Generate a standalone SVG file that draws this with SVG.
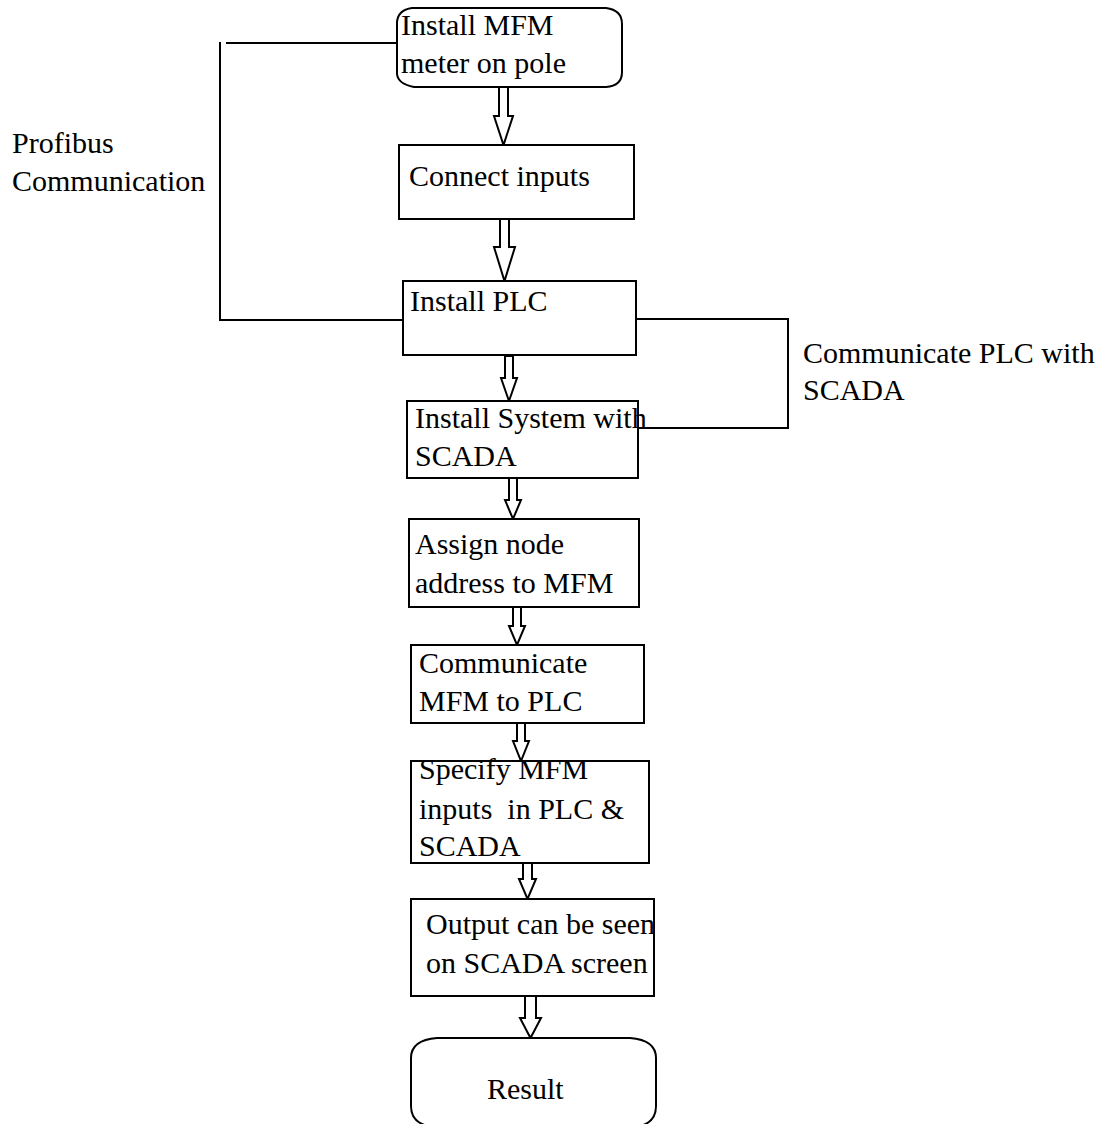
<svg xmlns="http://www.w3.org/2000/svg" width="1099" height="1124" viewBox="0 0 1099 1124">
<style>
.box{fill:#fff;stroke:#000;stroke-width:2}
.ln{fill:none;stroke:#000;stroke-width:2}
.arr{fill:#fff;stroke:#000;stroke-width:2;stroke-linejoin:miter}
text{font-family:"Liberation Serif","Times New Roman","DejaVu Serif",serif;font-size:30px;fill:#000}
</style>
<rect width="1099" height="1124" fill="#fff"/>
<g id="connectors">
<polyline class="ln" points="226,43 397,43"/>
<polyline class="ln" points="220,42 220,320 403,320"/>
<polyline class="ln" points="636,319 788,319 788,428 637,428"/>
<polygon class="arr" points="499,87 508,87 508,116 513,116 503.5,145 494,116 499,116"/>
<polygon class="arr" points="500,219 509,219 509,247 515,247 504.5,281 494,247 500,247"/>
<polygon class="arr" points="505,356 513,356 513,378 517,378 509,401 501,378 505,378"/>
<polygon class="arr" points="509,478 517,478 517,500 521,500 513,519 505,500 509,500"/>
<polygon class="arr" points="513,607 521,607 521,626 525,626 517,645 509,626 513,626"/>
<polygon class="arr" points="517,723 525,723 525,741 529,741 521,761 513,741 517,741"/>
<polygon class="arr" points="523,863 532,863 532,879 536,879 527.5,899 519,879 523,879"/>
<polygon class="arr" points="525,996 536,996 536,1018 541,1018 530.5,1038 520,1018 525,1018"/>
</g>
<g id="n1">
<path class="box" d="M412,8 L606,8 Q622,10 622,24 L622,72 Q622,86 606,87 L414,87 Q398,84 397,74 L397,22 Q398,10 412,8 Z"/>
<text x="401" y="35">Install MFM</text>
<text x="401" y="73">meter on pole</text>
</g>
<g id="n2">
<rect class="box" x="399" y="145" width="235" height="74"/>
<text x="409" y="186">Connect inputs</text>
</g>
<g id="n3">
<rect class="box" x="403" y="281" width="233" height="74"/>
<text x="410" y="311">Install PLC</text>
</g>
<g id="n4">
<rect class="box" x="407" y="401" width="231" height="77"/>
<text x="415" y="428">Install System with</text>
<text x="415" y="466">SCADA</text>
</g>
<g id="n5">
<rect class="box" x="409" y="519" width="230" height="88"/>
<text x="415" y="554">Assign node</text>
<text x="415" y="593">address to MFM</text>
</g>
<g id="n6">
<rect class="box" x="411" y="645" width="233" height="78"/>
<text x="419" y="673">Communicate</text>
<text x="419" y="711">MFM to PLC</text>
</g>
<g id="n7">
<rect class="box" x="411" y="761" width="238" height="102"/>
<text x="419" y="779">Specify MFM</text>
<text x="419" y="819" xml:space="preserve">inputs  in PLC &amp;</text>
<text x="419" y="856">SCADA</text>
</g>
<g id="n8">
<rect class="box" x="411" y="899" width="243" height="97"/>
<text x="426" y="934">Output can be seen</text>
<text x="426" y="973">on SCADA screen</text>
</g>
<g id="n9">
<path class="box" d="M437,1038 L630,1038 Q656,1040 656,1058 L656,1106 Q656,1122 640,1126 L428,1126 Q411,1122 411,1106 L411,1058 Q411,1040 437,1038 Z"/>
<text x="487" y="1099">Result</text>
</g>
<g id="labels">
<text x="12" y="153">Profibus</text>
<text x="12" y="191">Communication</text>
<text x="803" y="363">Communicate PLC with</text>
<text x="803" y="400">SCADA</text>
</g>
</svg>
